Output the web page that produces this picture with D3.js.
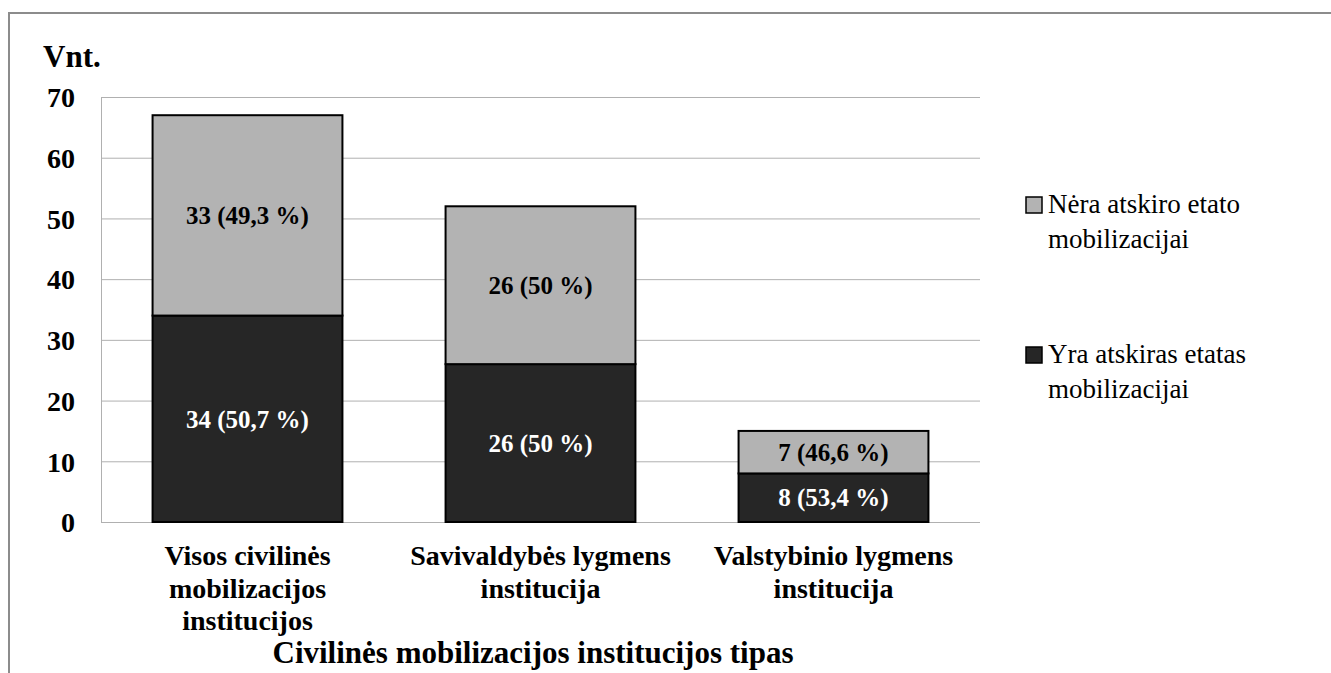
<!DOCTYPE html>
<html><head><meta charset="utf-8">
<script src="https://cdn.jsdelivr.net/npm/d3@7"></script>
<style>body{margin:0;background:#fff}svg{display:block}text{font-family:"Liberation Serif","Times New Roman",serif}</style>
</head><body>
<svg id="c" width="1331" height="673"></svg>
<script>
const categories = [["Visos civilinės","mobilizacijos","institucijos"],["Savivaldybės lygmens","institucija"],["Valstybinio lygmens","institucija"]];
const seriesNames = ["Yra atskiras etatas mobilizacijai","Nėra atskiro etato mobilizacijai"];
const yraValues = [34, 26, 8];
const neraValues = [33, 26, 7];
const yraLabels = ["34 (50,7 %)","26 (50 %)","8 (53,4 %)"];
const neraLabels = ["33 (49,3 %)","26 (50 %)","7 (46,6 %)"];
const yTicks = [0,10,20,30,40,50,60,70];
const legendLines = [["Nėra atskiro etato","mobilizacijai"],["Yra atskiras etatas","mobilizacijai"]];
const colors = {yra:"#262626", nera:"#b3b3b3"};

const svg = d3.select("#c");
svg.append("path").attr("d","M9,673 V13 H1331").attr("fill","none").attr("stroke","#8c8c8c").attr("stroke-width",2);

const x = d3.scaleBand().domain(d3.range(3)).range([101,980]).paddingInner(0.352).paddingOuter(0.176);
const y = d3.scaleLinear().domain([0,70]).range([522,97]);

svg.append("g").selectAll("line").data(yTicks).join("line")
  .attr("x1",101).attr("x2",980).attr("y1",d=>y(d)+0.5).attr("y2",d=>y(d)+0.5)
  .attr("stroke","#b0b0b0").attr("stroke-width",1);
svg.append("line").attr("x1",101.5).attr("x2",101.5).attr("y1",y(70)).attr("y2",y(0)).attr("stroke","#b0b0b0");

const yAxis = d3.axisLeft(y).tickValues(yTicks).tickSize(0).tickPadding(26);
const ga = svg.append("g").attr("transform","translate(101,0)").call(yAxis);
ga.select(".domain").remove();
ga.selectAll("text").attr("font-size",28).attr("font-weight","bold").attr("fill","#000")
  .attr("font-family","Liberation Serif").attr("dy","0.35em");

svg.append("text").attr("x",43).attr("y",67).attr("font-size",31).attr("font-weight","bold").text("Vnt.");

const g = svg.append("g");
d3.range(3).forEach(i=>{
  const x0 = x(i), w = x.bandwidth();
  g.append("rect").attr("x",x0).attr("width",w).attr("y",y(yraValues[i])).attr("height",y(0)-y(yraValues[i]))
    .attr("fill",colors.yra).attr("stroke","#000").attr("stroke-width",2);
  g.append("rect").attr("x",x0).attr("width",w).attr("y",y(yraValues[i]+neraValues[i])).attr("height",y(yraValues[i])-y(yraValues[i]+neraValues[i]))
    .attr("fill",colors.nera).attr("stroke","#000").attr("stroke-width",2);
  g.append("text").attr("x",x0+w/2).attr("y",y(yraValues[i]/2)).attr("dy","0.35em").attr("text-anchor","middle")
    .attr("font-size",25).attr("font-weight","bold").attr("fill","#fff").text(yraLabels[i]);
  g.append("text").attr("x",x0+w/2).attr("y",y(yraValues[i]+neraValues[i]/2)).attr("dy","0.35em").attr("text-anchor","middle")
    .attr("font-size",25).attr("font-weight","bold").attr("fill","#000").text(neraLabels[i]);
});

d3.range(3).forEach(i=>{
  const cx = x(i)+x.bandwidth()/2;
  const t = svg.append("text").attr("text-anchor","middle").attr("font-size",28).attr("font-weight","bold");
  categories[i].forEach((l,j)=>t.append("tspan").attr("x",cx).attr("y",565+j*32.5).text(l));
});

svg.append("text").attr("x",533).attr("y",663).attr("text-anchor","middle").attr("font-size",31).attr("font-weight","bold")
  .text("Civilinės mobilizacijos institucijos tipas");

const legY = [213, 363];
const legCol = [colors.nera, colors.yra];
legendLines.forEach((lines,k)=>{
  svg.append("rect").attr("x",1026).attr("y",legY[k]-16).attr("width",16).attr("height",16)
    .attr("fill",legCol[k]).attr("stroke","#000").attr("stroke-width",1.5);
  const t = svg.append("text").attr("font-size",27).attr("fill","#000");
  lines.forEach((l,j)=>t.append("tspan").attr("x",1048).attr("y",legY[k]+j*35).text(l));
});
</script>
</body></html>
